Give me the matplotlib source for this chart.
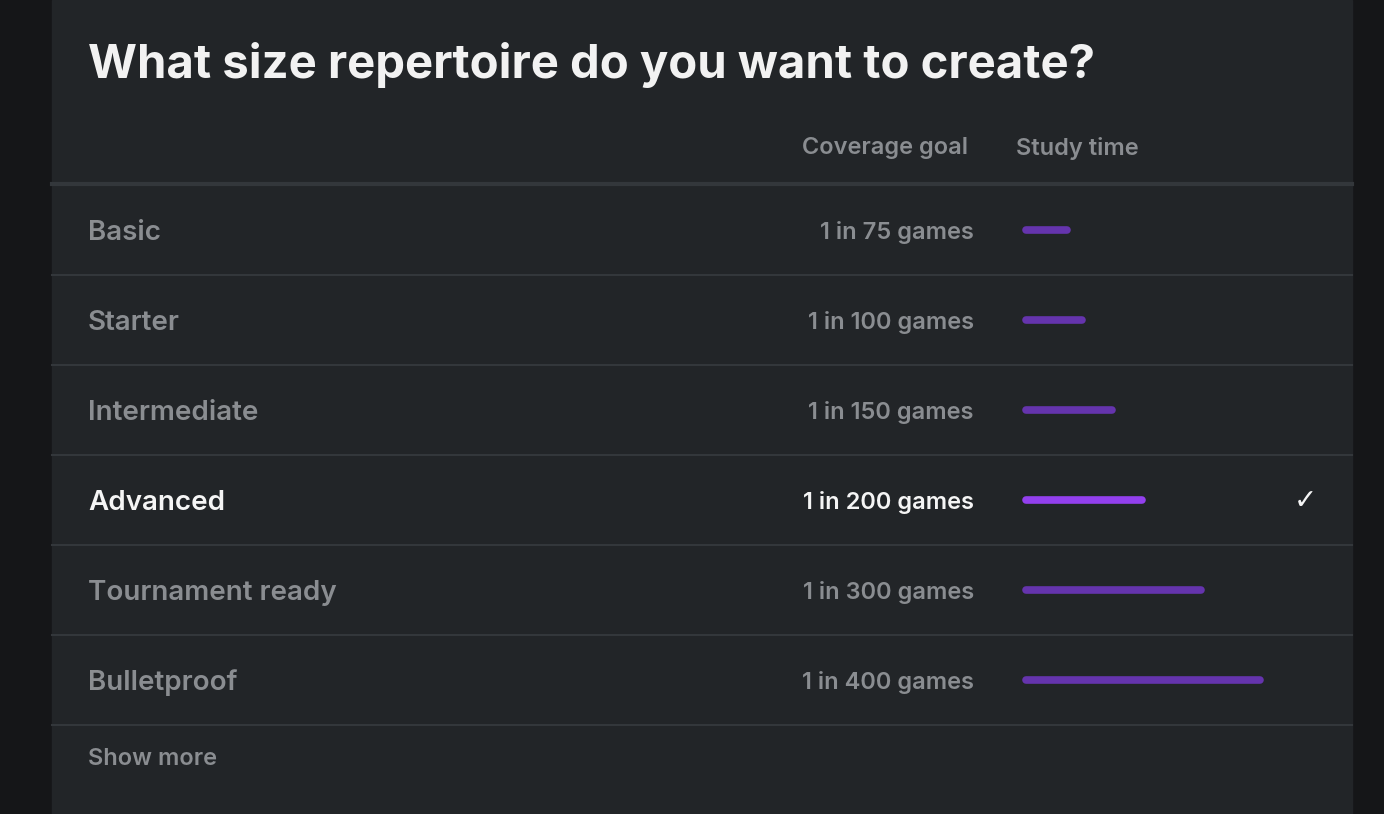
import matplotlib
matplotlib.use("Agg")
import matplotlib.pyplot as plt
from matplotlib.patches import Rectangle

levels = ["Basic", "Starter", "Intermediate", "Advanced", "Tournament ready", "Bulletproof"]
coverage = ["1 in 75 games", "1 in 100 games", "1 in 150 games", "1 in 200 games", "1 in 300 games", "1 in 400 games"]
study_time = [47, 62, 92, 122, 181, 240]
selected = "Advanced"

plt.rcParams['font.family'] = ['Inter', 'DejaVu Sans']
W, H = 1384, 814
fig = plt.figure(figsize=(W/100, H/100), dpi=100)
fig.patch.set_facecolor('#151618')
ax = fig.add_axes([0, 0, 1, 1])
ax.set_xlim(0, W); ax.set_ylim(H, 0); ax.axis('off')
ax.add_patch(Rectangle((52, 0), 1300, H, color='#222528', zorder=0))

gray = '#8a8d91'
ax.text(88, 65, "What size repertoire do you want to create?", color='#f2f2f2',
        fontsize=34, fontweight='bold', va='center')
ax.text(968, 148, "Coverage goal", color=gray, fontsize=17, fontweight='semibold', va='center', ha='right')
ax.text(1016, 148, "Study time", color=gray, fontsize=17, fontweight='semibold', va='center')
ax.plot([52, 1352], [184, 184], color='#33373b', lw=3)

for i, (lv, cv, st) in enumerate(zip(levels, coverage, study_time)):
    y = 230 + 90 * i
    sel = lv == selected
    c = '#f5f5f5' if sel else gray
    ax.text(88, y + 3, lv, color=c, fontsize=20, fontweight='semibold', va='center')
    ax.text(974, y + 2, cv, color=c, fontsize=17, fontweight='semibold', va='center', ha='right')
    ax.plot([1026, 1023 + st - 3], [y, y], color='#9340ee' if sel else '#6534ad',
            lw=5.5, solid_capstyle='round')
    if sel:
        ax.text(1305, y + 1, "✓", color='#f5f5f5', fontsize=20, fontweight='bold',
                va='center', ha='center', family=['DejaVu Sans'])
    ax.plot([52, 1352], [y + 45, y + 45], color='#33373b', lw=1.5)

ax.text(88, 759, "Show more", color=gray, fontsize=17, fontweight='semibold', va='center')
fig.savefig("out.png", dpi=100, facecolor=fig.get_facecolor())
